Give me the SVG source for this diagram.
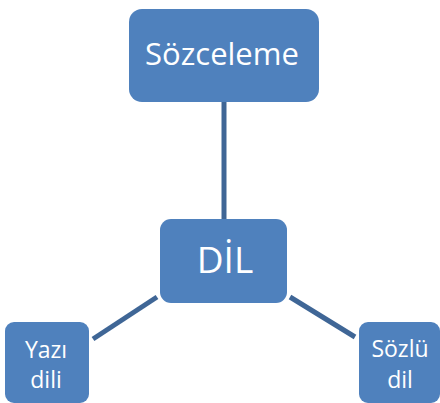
<svg xmlns="http://www.w3.org/2000/svg" width="440" height="403" viewBox="0 0 440 403">
<style>
.node rect{fill:#4F81BD;stroke:none}
.node text{fill:#FFFFFF;font-family:"Open Sans","Noto Sans",sans-serif;text-anchor:middle}
.conn line{stroke:#3F6696;stroke-width:5}
</style>
<rect width="440" height="403" fill="#FFFFFF"/>
<g id="connectors" class="conn">
<line x1="224" y1="102" x2="224" y2="219"/>
<line x1="93" y1="339" x2="157" y2="297"/>
<line x1="290" y1="297" x2="355" y2="337"/>
</g>
<g id="sozceleme" class="node">
<rect x="129" y="9" width="190" height="93" rx="13"/>
<text x="222" y="65" font-size="31">Sözceleme</text>
</g>
<g id="dil" class="node">
<rect x="160" y="219" width="127" height="84" rx="11"/>
<text x="225" y="273" font-size="37">DİL</text>
</g>
<g id="yazi-dili" class="node">
<rect x="5" y="322" width="84" height="81" rx="9"/>
<text x="46" y="358" font-size="23">Yazı</text>
<text x="46" y="388" font-size="23">dili</text>
</g>
<g id="sozlu-dil" class="node">
<rect x="359" y="322" width="81" height="81" rx="9"/>
<text x="400" y="357" font-size="23">Sözlü</text>
<text x="400" y="388" font-size="23">dil</text>
</g>
</svg>
